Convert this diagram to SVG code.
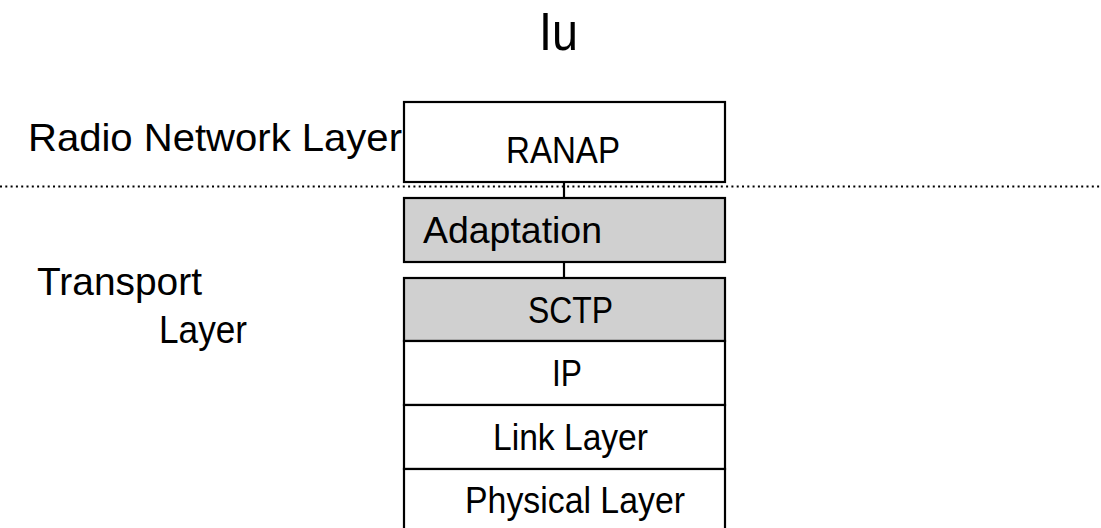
<svg xmlns="http://www.w3.org/2000/svg" width="1101" height="528" viewBox="0 0 1101 528">
  <style>
    text { font-family: "Liberation Sans", Arial, sans-serif; fill: #000; }
    .box { stroke: #000; stroke-width: 2.2; }
    .white { fill: #fff; }
    .gray { fill: #d0d0d0; }
    .lbl { font-size: 36px; }
    .side { font-size: 39px; }
    .conn { stroke: #000; stroke-width: 2.2; fill: none; }
    .div { stroke: #000; stroke-width: 2; stroke-dasharray: 2 3.3; fill: none; }
  </style>
  <rect x="0" y="0" width="1101" height="528" fill="#fff"/>

  <g id="title">
    <text x="539" y="50" font-size="53" textLength="39" lengthAdjust="spacingAndGlyphs">Iu</text>
  </g>

  <g id="side-labels">
    <text class="side" x="28" y="151" font-size="40" textLength="374" lengthAdjust="spacingAndGlyphs">Radio Network Layer</text>
    <text class="side" x="37" y="295" textLength="165" lengthAdjust="spacingAndGlyphs">Transport</text>
    <text class="side" x="159" y="343" textLength="88" lengthAdjust="spacingAndGlyphs">Layer</text>
  </g>

  <g id="divider">
    <line class="div" x1="0" y1="186.5" x2="1101" y2="186.5"/>
  </g>

  <g id="connectors">
    <line class="conn" x1="564" y1="182" x2="564" y2="198"/>
    <line class="conn" x1="564" y1="262" x2="564" y2="278"/>
  </g>

  <g id="ranap">
    <rect class="box white" x="404" y="102" width="321" height="80"/>
    <text class="lbl" x="506" y="163" textLength="114" lengthAdjust="spacingAndGlyphs">RANAP</text>
  </g>

  <g id="adaptation">
    <rect class="box gray" x="404" y="198" width="321" height="64"/>
    <text class="lbl" x="423" y="243" font-size="38" textLength="179" lengthAdjust="spacingAndGlyphs">Adaptation</text>
  </g>

  <g id="sctp">
    <rect class="box gray" x="404" y="278" width="321" height="63"/>
    <text class="lbl" x="528" y="323" font-size="38" textLength="85" lengthAdjust="spacingAndGlyphs">SCTP</text>
  </g>

  <g id="ip">
    <rect class="box white" x="404" y="341" width="321" height="64"/>
    <text class="lbl" x="552" y="386" textLength="30" lengthAdjust="spacingAndGlyphs">IP</text>
  </g>

  <g id="link-layer">
    <rect class="box white" x="404" y="405" width="321" height="64"/>
    <text class="lbl" x="493" y="450" textLength="155" lengthAdjust="spacingAndGlyphs">Link Layer</text>
  </g>

  <g id="physical-layer">
    <rect class="box white" x="404" y="469" width="321" height="70"/>
    <text class="lbl" x="465" y="513" textLength="220" lengthAdjust="spacingAndGlyphs">Physical Layer</text>
  </g>
</svg>
